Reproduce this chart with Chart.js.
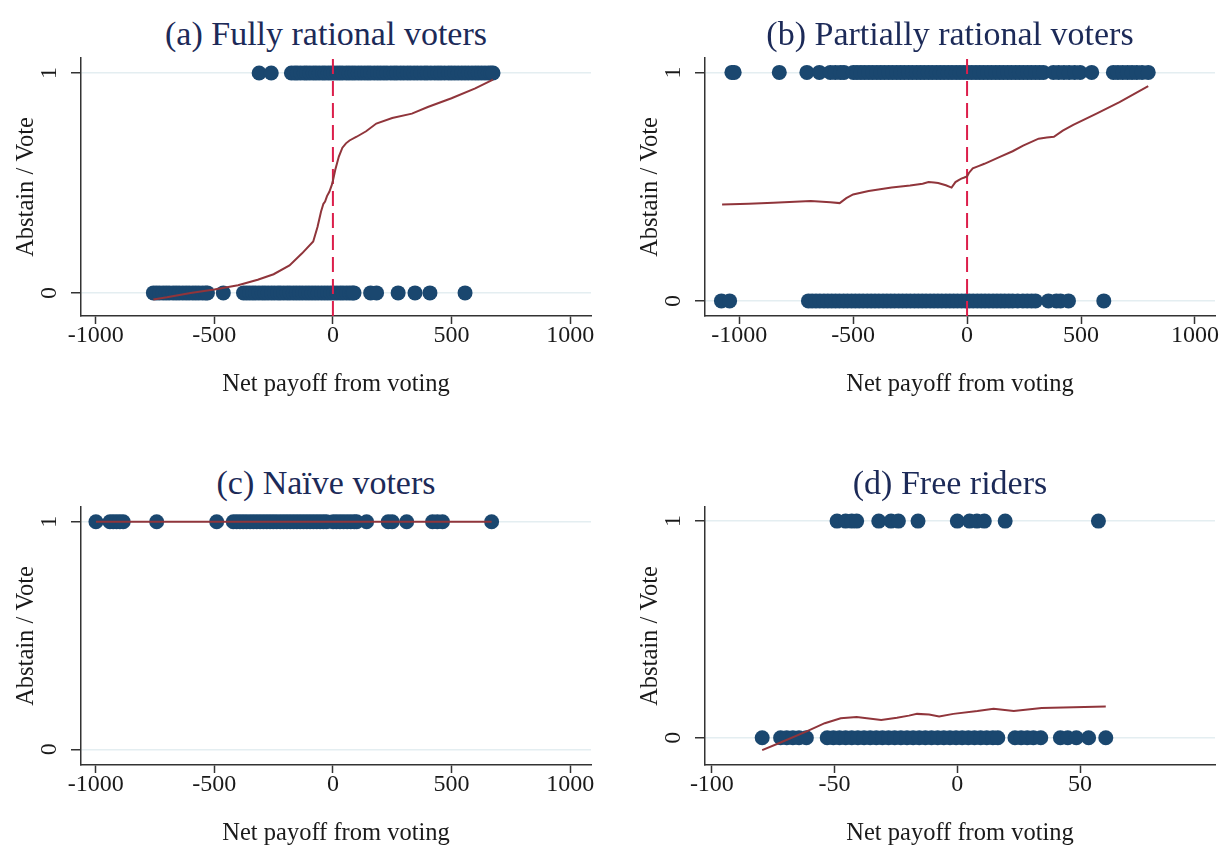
<!DOCTYPE html>
<html>
<head>
<meta charset="utf-8">
<title>Abstain / Vote by voter type</title>
<script src="https://cdn.jsdelivr.net/npm/chart.js@4.4.1/dist/chart.umd.min.js"></script>
<style>
  html, body { margin: 0; padding: 0; background: #fff; }
  body { width: 1222px; height: 846px; overflow: hidden; position: relative; }
  .panel { position: absolute; width: 625px; height: 420px; }
  .panel canvas { position: absolute; left: 0; top: 0; }
  .panel-title {
    position: absolute; left: 0; top: 16px; width: 652px; margin: 0;
    text-align: center; white-space: nowrap;
    font-family: "Liberation Serif", "Times New Roman", serif;
    font-weight: normal; font-size: 34px; line-height: 35px; color: #1c2a58;
  }
</style>
</head>
<body>
<div id="root"></div>
<script>
// (a) Fully rational voters
const aVote = [-311, -260, -175, -161, -150, -136, -121, -110, -97, -83, -71, -58, -44, -33, -20, -8, 4, 17, 29, 41, 56, 68, 81, 93, 107, 120, 134, 147, 159, 174, 188, 201, 215, 228, 244, 258, 270, 285, 299, 314, 327, 342, 356, 371, 386, 398, 413, 429, 443, 456, 471, 487, 500, 514, 528, 543, 557, 571, 586, 600, 613, 627, 641, 655, 666, 675];
const aAbstain = [-757, -744, -731, -716, -703, -690, -674, -661, -648, -633, -619, -606, -591, -578, -565, -550, -537, -529, -462, -377, -364, -351, -338, -326, -312, -298, -286, -273, -259, -246, -232, -221, -207, -193, -181, -167, -154, -141, -128, -114, -101, -88, -75, -62, -48, -35, -22, -9, 4, 17, 31, 43, 57, 70, 82, 89, 159, 184, 275, 346, 409, 557];
const aFitX = [-757, -700, -600, -500, -400, -317, -250, -183, -130, -83, -65, -50, -40, -33, -25, -15, -5, 0, 10, 25, 40, 55, 70, 100, 140, 183, 250, 333, 400, 500, 600, 675];
const aFitY = [-0.03, -0.02, 0.0, 0.015, 0.035, 0.06, 0.085, 0.125, 0.18, 0.234, 0.3, 0.37, 0.405, 0.415, 0.44, 0.46, 0.49, 0.51, 0.56, 0.62, 0.66, 0.68, 0.693, 0.71, 0.735, 0.77, 0.795, 0.815, 0.845, 0.885, 0.93, 0.97];

// (b) Partially rational voters
const bVote = [-1032, -1022, -824, -703, -648, -600, -578, -556, -540, -499, -483, -466, -449, -431, -414, -396, -379, -362, -344, -327, -309, -292, -275, -257, -240, -222, -205, -188, -170, -153, -135, -118, -101, -83, -66, -48, -31, -14, 4, 21, 39, 56, 73, 91, 108, 126, 143, 160, 178, 195, 213, 230, 247, 265, 282, 300, 318, 335, 379, 402, 425, 448, 472, 496, 547, 642, 662, 683, 704, 724, 745, 768, 795];
const bAbstain = [-1078, -1042, -696, -680, -663, -646, -628, -611, -594, -577, -560, -542, -525, -507, -490, -473, -456, -438, -421, -404, -387, -369, -352, -335, -318, -300, -283, -266, -249, -231, -214, -197, -180, -162, -145, -128, -111, -93, -76, -59, -42, -24, -7, 10, 27, 45, 62, 79, 96, 114, 131, 148, 165, 183, 200, 222, 245, 264, 283, 300, 357, 392, 410, 445, 600];
const bFitX = [-1075, -958, -850, -686, -600, -559, -530, -500, -432, -331, -250, -195, -169, -145, -127, -93, -68, -51, -35, -25, -12, 0, 8, 25, 50, 76, 144, 200, 246, 314, 350, 381, 420, 466, 568, 669, 795];
const bFitY = [0.422, 0.425, 0.43, 0.437, 0.432, 0.428, 0.45, 0.466, 0.481, 0.496, 0.505, 0.513, 0.52, 0.518, 0.516, 0.506, 0.496, 0.52, 0.53, 0.535, 0.54, 0.545, 0.56, 0.58, 0.59, 0.60, 0.63, 0.655, 0.68, 0.71, 0.715, 0.718, 0.745, 0.77, 0.82, 0.87, 0.94];

// (c) Naive voters
const cVote = [-999, -940, -926, -912, -898, -884, -743, -490, -420, -406, -392, -378, -364, -349, -335, -321, -307, -293, -279, -265, -251, -237, -222, -208, -194, -180, -166, -152, -138, -124, -110, -96, -82, -68, -54, -40, -27, 1, 15, 30, 45, 60, 75, 90, 100, 142, 233, 250, 311, 420, 440, 462, 669];
const cAbstain = [];
const cFitX = [-999, 669];
const cFitY = [1, 1];

// (d) Free riders
const dVote = [-49, -45.5, -43, -41, -32, -27, -24, -16, 0, 5, 8, 11, 19.5, 57.5];
const dAbstain = [-79.5, -72, -69.5, -67, -64.5, -61.5, -53, -50.5, -48, -45.5, -43, -40.5, -38, -35.5, -33, -30.5, -28, -25.5, -23, -20.5, -18, -15.5, -13, -10.5, -8, -5.5, -3, -0.5, 2, 4.5, 7, 9.5, 12, 14.5, 16.5, 23.5, 26, 28.5, 31, 34, 42, 45, 48.5, 53.5, 60.5];
const dFitX = [-79.5, -72, -60.7, -54, -47.5, -41, -31, -24.6, -19.7, -16.4, -11.5, -7.4, -1.6, 8.2, 14.8, 23, 34.4, 47.5, 60.5];
const dFitY = [-0.057, -0.022, 0.033, 0.067, 0.09, 0.095, 0.082, 0.092, 0.102, 0.11, 0.107, 0.098, 0.11, 0.123, 0.134, 0.123, 0.137, 0.141, 0.144];

const xTicksWide = [-1000, -500, 0, 500, 1000];
const xTicksNarrow = [-100, -50, 0, 50];
const yTicks = [0, 1];
const cutoffX = 0;

const NAVY = "#1a476f";
const MAROON = "#90353b";
const CUTOFF_RED = "#dc1e4b";
const AXIS = "#333333";
const GRID = "#e4eef1";
const TEXT = "#1a1a1a";
const SERIF = "'Liberation Serif', 'Times New Roman', serif";

function rowPoints(xs, y) {
  return xs.map(x => ({ x: x, y: y }));
}

function curvePoints(xs, ys) {
  return xs.map((x, i) => ({ x: x, y: ys[i] }));
}

function makePanel(p) {
  const root = document.getElementById("root");
  const box = document.createElement("div");
  box.className = "panel";
  box.style.left = p.left + "px";
  box.style.top = p.top + "px";

  const title = document.createElement("h2");
  title.className = "panel-title";
  title.textContent = p.title;
  box.appendChild(title);

  const canvas = document.createElement("canvas");
  canvas.width = 625;
  canvas.height = 420;
  box.appendChild(canvas);
  root.appendChild(box);

  // first dataset is painted last (on top)
  const datasets = [{
    label: "lowess",
    data: curvePoints(p.fitX, p.fitY),
    showLine: true,
    borderColor: MAROON,
    borderWidth: 2,
    pointRadius: 0,
    tension: 0
  }];
  if (p.cutoff) {
    datasets.push({
      label: "cutoff",
      data: [{ x: cutoffX, y: p.yMin }, { x: cutoffX, y: p.yMax }],
      showLine: true,
      borderColor: CUTOFF_RED,
      borderWidth: 2,
      borderDash: [15, 7],
      pointRadius: 0
    });
  }
  datasets.push({
    label: "vote",
    data: rowPoints(p.vote, 1),
    pointBackgroundColor: NAVY,
    pointBorderWidth: 0,
    pointRadius: 7.5
  });
  datasets.push({
    label: "abstain",
    data: rowPoints(p.abstain, 0),
    pointBackgroundColor: NAVY,
    pointBorderWidth: 0,
    pointRadius: 7.5
  });

  new Chart(canvas, {
    type: "scatter",
    data: { datasets: datasets },
    options: {
      responsive: false,
      animation: false,
      events: [],
      layout: { padding: { left: 0, right: 34, top: 58, bottom: 0 } },
      plugins: {
        legend: { display: false },
        tooltip: { enabled: false },
        title: { display: false }
      },
      scales: {
        x: {
          type: "linear",
          min: p.xMin,
          max: p.xMax,
          afterBuildTicks: s => { s.ticks = p.xTicks.map(v => ({ value: v })); },
          afterFit: s => { s.height = 104; },
          grid: { drawOnChartArea: false, drawTicks: true, tickLength: 8, tickColor: AXIS, tickWidth: 1.5 },
          border: { display: true, color: AXIS, width: 1.5 },
          ticks: {
            padding: -3, autoSkip: false, maxRotation: 0, color: TEXT,
            font: { family: SERIF, size: 24 },
            callback: v => String(v)
          },
          title: {
            display: true, text: "Net payoff from voting", color: TEXT,
            font: { family: SERIF, size: 24.5 },
            padding: { top: 0, bottom: 21 }
          }
        },
        y: {
          type: "linear",
          min: p.yMin,
          max: p.yMax,
          afterBuildTicks: s => { s.ticks = yTicks.map(v => ({ value: v })); },
          afterFit: s => { s.width = 81; },
          grid: { color: GRID, lineWidth: 1.5, tickColor: AXIS, tickLength: 10, tickWidth: 1.5 },
          border: { display: true, color: AXIS, width: 1.5 },
          ticks: {
            minRotation: 90, maxRotation: 90, crossAlign: "center", padding: 15,
            color: TEXT, font: { family: SERIF, size: 24 },
            callback: v => String(v)
          },
          title: {
            display: true, text: "Abstain / Vote", color: TEXT,
            font: { family: SERIF, size: 24.5 },
            padding: { top: 12, bottom: 0 }
          }
        }
      }
    }
  });
}

makePanel({
  title: "(a) Fully rational voters", left: 0, top: 0,
  vote: aVote, abstain: aAbstain, fitX: aFitX, fitY: aFitY,
  xTicks: xTicksWide, xMin: -1062, xMax: 1088, yMin: -0.105, yMax: 1.068, cutoff: true
});
makePanel({
  title: "(b) Partially rational voters", left: 624, top: 0,
  vote: bVote, abstain: bAbstain, fitX: bFitX, fitY: bFitY,
  xTicks: xTicksWide, xMin: -1150, xMax: 1088, yMin: -0.066, yMax: 1.063, cutoff: true
});
makePanel({
  title: "(c) Naïve voters", left: 0, top: 449,
  vote: cVote, abstain: cAbstain, fitX: cFitX, fitY: cFitY,
  xTicks: xTicksWide, xMin: -1062, xMax: 1088, yMin: -0.069, yMax: 1.065, cutoff: false
});
makePanel({
  title: "(d) Free riders", left: 624, top: 449,
  vote: dVote, abstain: dAbstain, fitX: dFitX, fitY: dFitY,
  xTicks: xTicksNarrow, xMin: -102.8, xMax: 105, yMin: -0.126, yMax: 1.065, cutoff: false
});
</script>
</body>
</html>
